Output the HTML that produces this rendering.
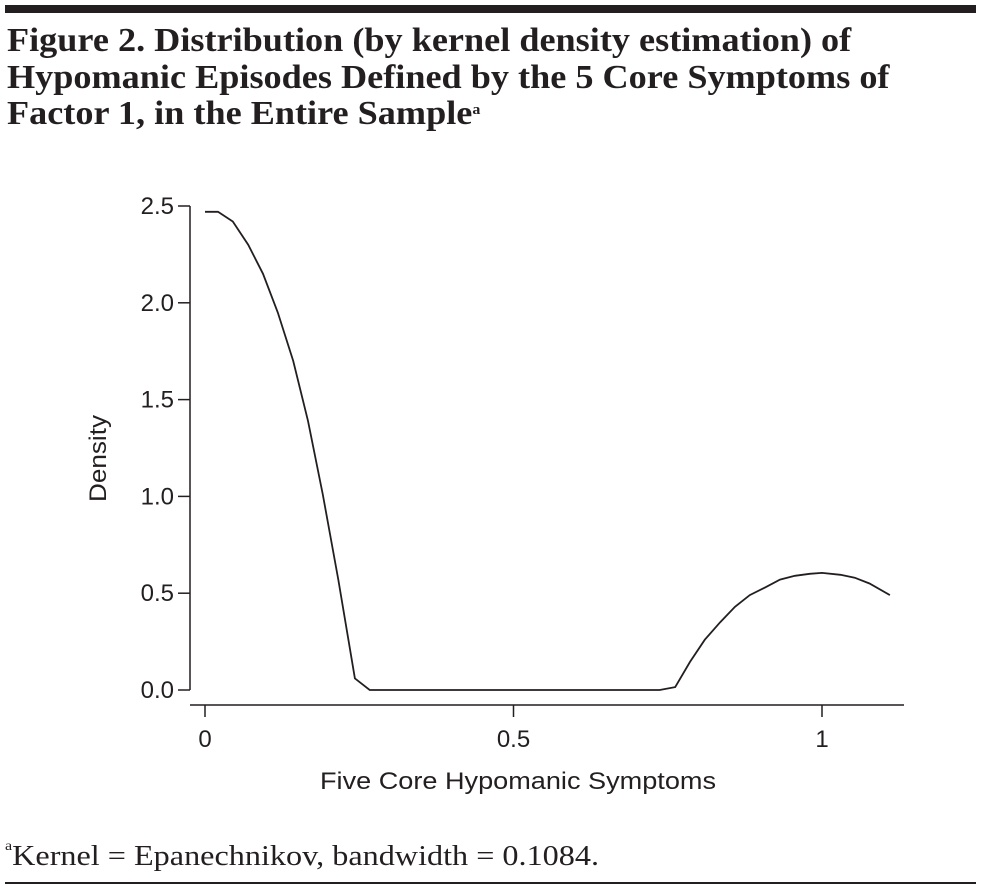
<!DOCTYPE html>
<html><head><meta charset="utf-8"><style>
body{margin:0;background:#fff;width:981px;height:891px;overflow:hidden;position:relative;font-family:"Liberation Serif",serif;color:#231f20}
.bar{position:absolute;left:5px;width:971px;top:5px;height:8px;background:#231f20}
.title{position:absolute;left:7px;top:23px;font-size:34px;font-weight:bold;line-height:36.5px;transform-origin:0 0;transform:scaleX(1.065);white-space:nowrap}
.title sup{font-size:15px;vertical-align:top;position:relative;top:-4px}
.foot{position:absolute;left:5px;top:841px;font-size:28px;transform-origin:0 0;transform:scaleX(1.15);white-space:nowrap}
.foot sup{font-size:14px;vertical-align:top;position:relative;top:-2px}
.rule{position:absolute;left:5px;width:971px;top:882px;height:2px;background:#231f20}
svg{position:absolute;left:0;top:0}
</style></head><body>
<div class="bar"></div>
<div class="title">Figure 2. Distribution (by kernel density estimation) of<br>Hypomanic Episodes Defined by the 5 Core Symptoms of<br>Factor 1, in the Entire Sample<sup>a</sup></div>
<svg width="981" height="891" id="chart"></svg>
<div class="foot"><sup>a</sup>Kernel = Epanechnikov, bandwidth = 0.1084.</div>
<div class="rule"></div>
<script>
const xTicks=[0,0.5,1];
const xTickLabels=["0","0.5","1"];
const yTicks=[0,0.5,1,1.5,2,2.5];
const yTickLabels=["0.0","0.5","1.0","1.5","2.0","2.5"];
const xValues=[0,0.021,0.045,0.07,0.094,0.118,0.143,0.167,0.191,0.216,0.243,0.267,0.737,0.762,0.786,0.81,0.835,0.859,0.883,0.908,0.932,0.956,0.98,1.0,1.03,1.053,1.077,1.11];
const densityValues=[2.47,2.47,2.42,2.30,2.15,1.95,1.70,1.39,1.01,0.57,0.06,0,0,0.015,0.145,0.26,0.35,0.43,0.49,0.53,0.57,0.59,0.6,0.605,0.595,0.58,0.55,0.49];
const NS="http://www.w3.org/2000/svg";
const svg=document.getElementById('chart');
const sx=v=>205+v*617;
const sy=v=>690-v*193.6;
function mk(t,a){const e=document.createElementNS(NS,t);for(const k in a)e.setAttribute(k,a[k]);svg.appendChild(e);return e;}
const font='"Liberation Sans",sans-serif';
let e=mk('line',{x1:190,y1:sy(2.5),x2:190,y2:sy(0),stroke:'#231f20','stroke-width':1.5});


e=mk('line',{x1:190,y1:705,x2:904,y2:705,stroke:'#231f20','stroke-width':1.5});


yTicks.forEach((v,i)=>{
 let t=mk('line',{x1:178,x2:190,y1:sy(v),y2:sy(v),stroke:'#231f20','stroke-width':1.5});
 
 
 let l=mk('text',{x:174,y:sy(v)+8,'text-anchor':'end','font-size':24,'font-family':font,fill:'#231f20'});
 l.textContent=yTickLabels[i];
 
 
});
xTicks.forEach((v,i)=>{
 let t=mk('line',{x1:sx(v),x2:sx(v),y1:705,y2:717,stroke:'#231f20','stroke-width':1.5});
 
 
 let l=mk('text',{x:sx(v),y:747,'text-anchor':'middle','font-size':24,'font-family':font,fill:'#231f20'});
 l.textContent=xTickLabels[i];
 
 
});
e=mk('text',{x:320,y:789,'font-size':24,'font-family':font,fill:'#231f20',textLength:396,lengthAdjust:'spacingAndGlyphs'});
e.textContent='Five Core Hypomanic Symptoms';


e=mk('text',{x:0,y:0,'font-size':24,'font-family':font,fill:'#231f20',textLength:87,lengthAdjust:'spacingAndGlyphs',transform:'translate(106,502) rotate(-90)'});
e.textContent='Density';


const d=xValues.map((x,i)=>(i?'L':'M')+sx(x).toFixed(1)+','+sy(densityValues[i]).toFixed(1)).join(' ');
e=mk('path',{d:d,fill:'none',stroke:'#231f20','stroke-width':1.8});


</script>
</body></html>
